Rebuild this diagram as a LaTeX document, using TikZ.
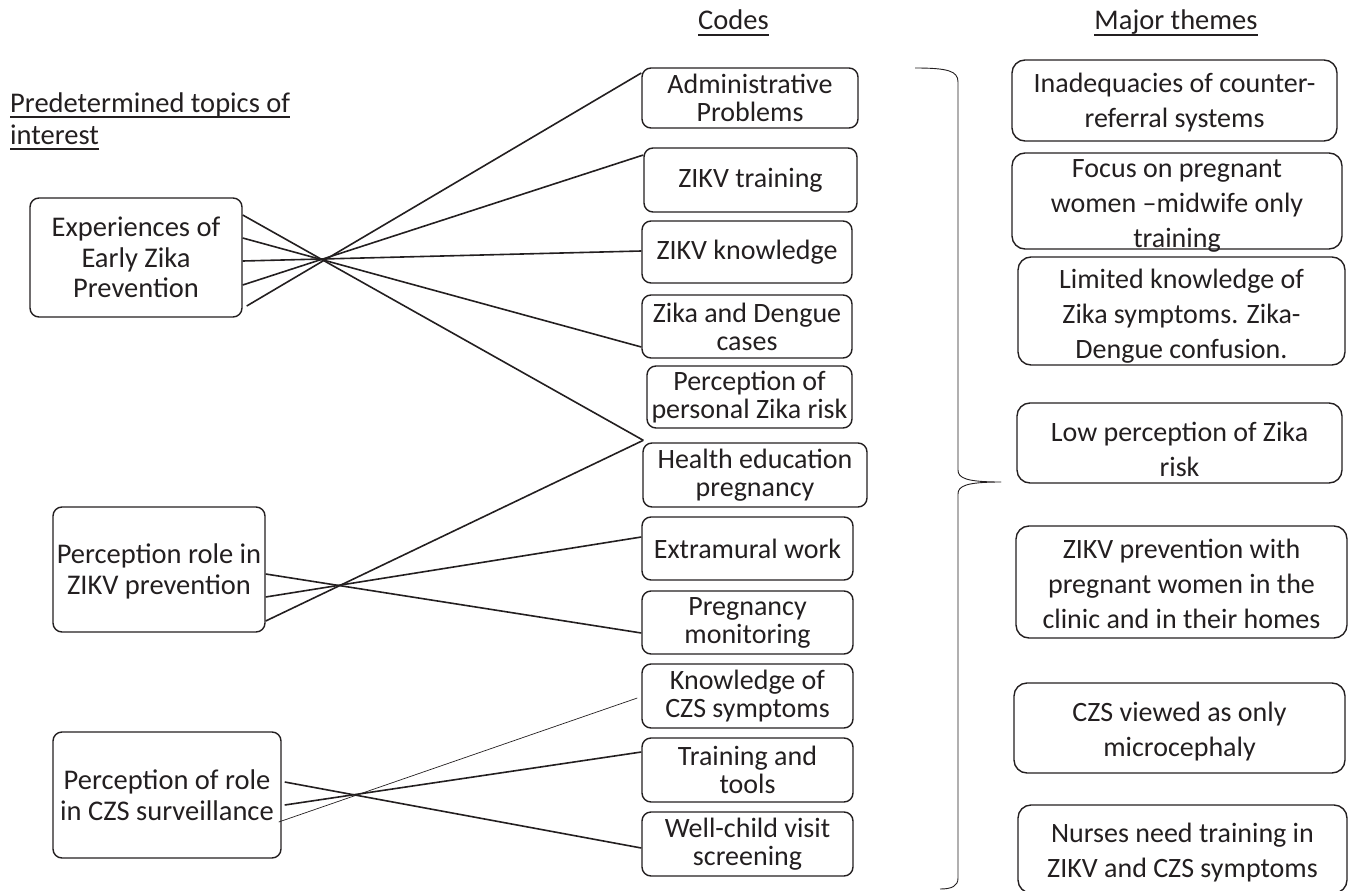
\documentclass[tikz,border=0pt]{standalone}
\usepackage{fontspec}
\setmainfont{Carlito}
\definecolor{ink}{HTML}{231F20}
\begin{document}
\begin{tikzpicture}[x=1pt,y=-1pt,line join=round,
  box/.style={draw=ink, line width=1.4pt, rounded corners=9pt, inner sep=0pt},
  tbox/.style={draw=ink, line width=1.4pt, rounded corners=13pt, inner sep=0pt},
  ltxt/.style={text=ink, align=center, inner sep=0pt, font=\fontsize{28.5}{30.5}\selectfont},
  ctxt/.style={text=ink, align=center, inner sep=0pt, font=\fontsize{28}{28}\selectfont},
  ttxt/.style={text=ink, align=center, inner sep=0pt, font=\fontsize{28}{35}\selectfont},
  head/.style={text=ink, inner sep=0pt, font=\fontsize{28.5}{30}\selectfont},
  conn/.style={draw=ink, line width=1.6pt},
  thin/.style={draw=ink, line width=0.7pt},
  brace/.style={draw=ink, line width=0.9pt}]
\useasboundingbox (0,0) rectangle (1352,891);

% headings
\node[head, anchor=base] (hcodes) at (733.5,30) {Codes};
\node[head, anchor=base] (hthemes) at (1176,30) {Major themes};
\node[head, anchor=base west] (htop1) at (10,112) {Predetermined topics of};
\node[head, anchor=base west] (htop2) at (10,144) {interest};
\foreach \h in {hcodes,hthemes,htop1,htop2}
  \draw[ink, line width=1.4pt] ([yshift=-5pt]\h.base west) -- ([yshift=-5pt]\h.base east);

% left boxes
\node[box, minimum width=212pt, minimum height=119pt] (L1) at (136,257.5) {};
\node[ltxt] (L1t) at (L1) {Experiences of\\Early Zika\\Prevention};
\node[box, minimum width=212pt, minimum height=125pt] (L2) at (159,569.5) {};
\node[ltxt] (L2t) at ([yshift=-2pt]L2.center) {Perception role in\\ZIKV prevention};
\node[box, minimum width=228pt, minimum height=126pt] (L3) at (167,795) {};
\node[ltxt] (L3t) at (L3) {Perception of role\\in CZS surveillance};

% code boxes
\node[box, minimum width=216pt, minimum height=60pt] (C1) at (750,98) {};
\node[ctxt] (C1t) at (C1) {Administrative\\Problems};
\node[box, minimum width=213pt, minimum height=64pt] (C2) at (750.5,180) {};
\node[ctxt] (C2t) at (C2) {ZIKV training};
\node[box, minimum width=210pt, minimum height=62pt] (C3) at (747,252) {};
\node[ctxt] (C3t) at (C3) {ZIKV knowledge};
\node[box, minimum width=210pt, minimum height=63pt] (C4) at (747,326.5) {};
\node[ctxt] (C4t) at (C4) {Zika and Dengue\\cases};
\node[box, minimum width=205pt, minimum height=62pt] (C5) at (749.5,397) {};
\node[ctxt] (C5t) at (C5) {Perception of\\personal Zika risk};
\node[box, minimum width=224pt, minimum height=64pt] (C6) at (755,475) {};
\node[ctxt] (C6t) at (C6) {Health education\\pregnancy};
\node[box, minimum width=211pt, minimum height=63pt] (C7) at (747.5,548.5) {};
\node[ctxt] (C7t) at (C7) {Extramural work};
\node[box, minimum width=211pt, minimum height=63pt] (C8) at (747.5,622.5) {};
\node[ctxt] (C8t) at (C8) {Pregnancy\\monitoring};
\node[box, minimum width=211pt, minimum height=64pt] (C9) at (747.5,696) {};
\node[ctxt] (C9t) at (C9) {Knowledge of\\CZS symptoms};
\node[box, minimum width=211pt, minimum height=64pt] (C10) at (747.5,770) {};
\node[ctxt] (C10t) at (C10) {Training and\\tools};
\node[box, minimum width=211pt, minimum height=64pt] (C11) at (747.5,844) {};
\node[ctxt] (C11t) at (C11) {Well-child visit\\screening};

% theme boxes
\node[tbox, minimum width=325pt, minimum height=81pt] (T1) at (1174.5,100.5) {};
\node[ttxt] (T1t) at ([yshift=-2pt]T1.center) {Inadequacies of counter-\\referral systems};
\node[tbox, minimum width=330pt, minimum height=96pt] (T2) at (1177,201) {};
\node[ttxt] (T2t) at ([yshift=-5pt]T2.center) {Focus on pregnant\\women –midwife only\\training};
\node[tbox, minimum width=327pt, minimum height=108pt] (T3) at (1181.5,311) {};
\node[ttxt] (T3t) at ([yshift=-5pt]T3.center) {Limited knowledge of\\Zika symptoms. Zika-\\Dengue confusion.};
\node[tbox, minimum width=325pt, minimum height=80pt] (T4) at (1179.5,443) {};
\node[ttxt] (T4t) at ([yshift=-6pt]T4.center) {Low perception of Zika\\risk};
\node[tbox, minimum width=331pt, minimum height=112pt] (T5) at (1181.5,582) {};
\node[ttxt] (T5t) at ([yshift=-2pt]T5.center) {ZIKV prevention with\\pregnant women in the\\clinic and in their homes};
\node[tbox, minimum width=331pt, minimum height=90pt] (T6) at (1179.5,728) {};
\node[ttxt] (T6t) at ([yshift=-4pt]T6.center) {CZS viewed as only\\microcephaly};
\node[tbox, minimum width=329pt, minimum height=88pt] (T7) at (1182.5,849) {};
\node[ttxt] (T7t) at ([yshift=-4pt]T7.center) {Nurses need training in\\ZIKV and CZS symptoms};

% connectors
\coordinate (C6c) at ([xshift=1pt,yshift=2pt]C6.north west);
\draw[conn] ([yshift=42.5pt]L1.east) -- (C6c);
\draw[conn] ([yshift=19.5pt]L1.east) -- ([yshift=-20.5pt]C4.west);
\draw[conn] ([yshift=-3.5pt]L1.east) -- ([yshift=1pt]C3.west);
\draw[conn] ([yshift=-27.5pt]L1.east) -- ([yshift=25pt]C2.west);
\draw[conn] ([xshift=4pt,yshift=-48.5pt]L1.east) -- ([yshift=25pt]C1.west);

\draw[conn] ([yshift=-4.5pt]L2.east) -- ([yshift=-10.5pt]C8.west);
\draw[conn] ([yshift=-27.5pt]L2.east) -- ([yshift=11.5pt]C7.west);
\draw[conn] ([yshift=-51.5pt]L2.east) -- (C6c);

\draw[conn] ([xshift=3pt,yshift=13pt]L3.east) -- ([yshift=-4pt]C11.west);
\draw[conn] ([xshift=3pt,yshift=-10pt]L3.east) -- ([yshift=18pt]C10.west);
\draw[thin] ([xshift=-3pt,yshift=-27pt]L3.east) -- ([xshift=-4pt,yshift=-2pt]C9.west);

% brace
\coordinate (btip) at (1001,482);
\draw[brace] (915,68) .. controls (948,68) and (958,71) .. (958,82) -- (958,470)
  .. controls (958,478) and (966,482) .. (btip)
  .. controls (966,482) and (958,486) .. (958,494) -- (958,878)
  .. controls (958,886) and (952,889) .. (940,889);
\end{tikzpicture}
\end{document}
